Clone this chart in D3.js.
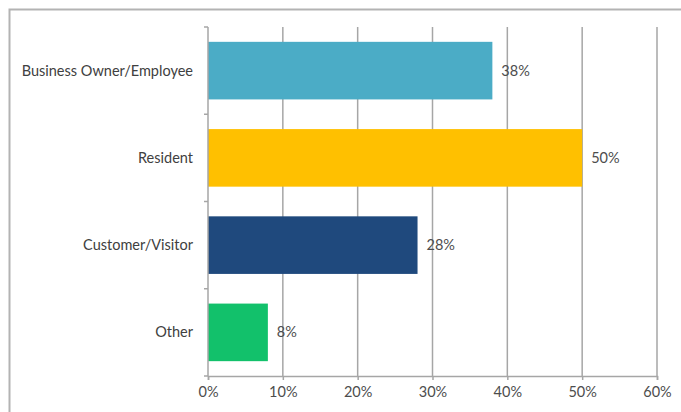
<!DOCTYPE html>
<html>
<head>
<meta charset="utf-8">
<script src="https://cdn.jsdelivr.net/npm/d3@7/dist/d3.min.js"></script>
<style>
  html, body { margin: 0; padding: 0; background: #fff; }
  svg { display: block; }
  text { font-family: Lato, "Open Sans", sans-serif; }
</style>
</head>
<body>
<svg id="chart" width="681" height="412"></svg>
<script>
// Respondent type, share of responses (%)
const categories = ["Business Owner/Employee", "Resident", "Customer/Visitor", "Other"];
const values = [38, 50, 28, 8];
const barColors = ["#4BACC6", "#FFC000", "#1F497D", "#12C16B"];
const xTicks = [0, 10, 20, 30, 40, 50, 60];

const W = 681, H = 412;
const plot = { left: 208, right: 657, top: 27, bottom: 376 };
const fontSize = 14.5;

const svg = d3.select("#chart");

// outer chart frame (runs past the right and bottom edges)
svg.append("rect")
  .attr("x", 9.5).attr("y", 9.5)
  .attr("width", W + 20).attr("height", H + 20)
  .attr("fill", "#fff")
  .attr("stroke", "#b3b3b3")
  .attr("stroke-width", 2);

const x = d3.scaleLinear().domain([0, 60]).range([plot.left, plot.right]);
const y = d3.scaleBand().domain(categories).range([plot.top, plot.bottom])
  .paddingInner(0.34).paddingOuter(0.17);

const gridColor = "#a6a6a6";

// vertical gridlines
svg.append("g")
  .selectAll("line")
  .data(xTicks.slice(1))
  .join("line")
  .attr("x1", d => x(d)).attr("x2", d => x(d))
  .attr("y1", plot.top).attr("y2", plot.bottom)
  .attr("stroke", gridColor)
  .attr("stroke-width", 1.5);

// bars
svg.append("g")
  .selectAll("rect")
  .data(categories)
  .join("rect")
  .attr("x", x(0))
  .attr("y", d => y(d))
  .attr("width", (d, i) => x(values[i]) - x(0))
  .attr("height", y.bandwidth())
  .attr("fill", (d, i) => barColors[i]);

// value labels
svg.append("g")
  .selectAll("text")
  .data(categories)
  .join("text")
  .attr("x", (d, i) => x(values[i]) + 9)
  .attr("y", d => y(d) + y.bandwidth() / 2)
  .attr("dy", "0.35em")
  .attr("font-size", fontSize)
  .attr("fill", "#4d4d4d")
  .text((d, i) => values[i] + "%");

// x axis
const xAxis = d3.axisBottom(x)
  .tickValues(xTicks)
  .tickFormat(d => d + "%")
  .tickSize(4)
  .tickPadding(7);

const gx = svg.append("g")
  .attr("transform", `translate(0,${plot.bottom})`)
  .call(xAxis);
gx.select(".domain").attr("stroke", gridColor).attr("stroke-width", 1.5);
gx.selectAll(".tick line").attr("stroke", gridColor).attr("stroke-width", 1.5);
gx.selectAll(".tick text")
  .attr("font-family", "Lato, 'Open Sans', sans-serif")
  .attr("font-size", fontSize)
  .attr("fill", "#4d4d4d");

// y axis: ticks sit on band boundaries, labels centred on bands
const yAxisLine = svg.append("g");
yAxisLine.append("line")
  .attr("x1", plot.left).attr("x2", plot.left)
  .attr("y1", plot.top).attr("y2", plot.bottom)
  .attr("stroke", gridColor).attr("stroke-width", 1.5);

const boundaries = d3.range(categories.length + 1)
  .map(i => plot.top + i * (plot.bottom - plot.top) / categories.length);
yAxisLine.selectAll("line.tick")
  .data(boundaries)
  .join("line")
  .attr("class", "tick")
  .attr("x1", plot.left - 4).attr("x2", plot.left)
  .attr("y1", d => d).attr("y2", d => d)
  .attr("stroke", gridColor).attr("stroke-width", 1.5);

svg.append("g")
  .selectAll("text")
  .data(categories)
  .join("text")
  .attr("x", 193)
  .attr("y", d => y(d) + y.bandwidth() / 2)
  .attr("dy", "0.35em")
  .attr("text-anchor", "end")
  .attr("font-size", fontSize)
  .attr("fill", "#404040")
  .text(d => d);
</script>
</body>
</html>
